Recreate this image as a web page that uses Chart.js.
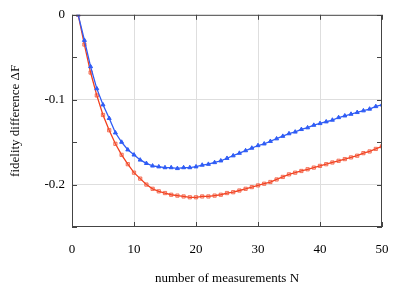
<!DOCTYPE html>
<html>
<head>
<meta charset="utf-8">
<script src="https://cdn.jsdelivr.net/npm/chart.js@4/dist/chart.umd.min.js"></script>
<style>
  html, body { margin: 0; padding: 0; background: #fff; }
  #wrap { width: 415px; height: 292px; }
</style>
</head>
<body>
<div id="wrap"><canvas id="fidelity" width="415" height="292"></canvas></div>
<script>
// number of measurements N
const measurements = Array.from({ length: 50 }, (_, i) => i + 1);

const blueValues = [
  0, -0.030, -0.061, -0.087, -0.106, -0.122, -0.139, -0.150, -0.159, -0.165,
  -0.171, -0.175, -0.178, -0.179, -0.180, -0.180, -0.181, -0.180, -0.180, -0.179,
  -0.177, -0.176, -0.174, -0.172, -0.169, -0.166, -0.163, -0.160, -0.157, -0.154,
  -0.152, -0.149, -0.146, -0.143, -0.140, -0.138, -0.135, -0.133, -0.130, -0.128,
  -0.126, -0.124, -0.121, -0.119, -0.117, -0.115, -0.113, -0.111, -0.108, -0.106
];

const redValues = [
  0, -0.035, -0.068, -0.095, -0.118, -0.136, -0.152, -0.165, -0.176, -0.186,
  -0.193, -0.200, -0.205, -0.208, -0.210, -0.212, -0.213, -0.214, -0.215, -0.215,
  -0.214, -0.214, -0.213, -0.212, -0.210, -0.209, -0.207, -0.205, -0.203, -0.201,
  -0.199, -0.197, -0.194, -0.191, -0.188, -0.186, -0.184, -0.182, -0.180, -0.178,
  -0.176, -0.174, -0.172, -0.170, -0.168, -0.166, -0.163, -0.161, -0.158, -0.155
];

const xTicks = [0, 10, 20, 30, 40, 50];
const yLabelled = [0, -0.1, -0.2];

const serif = '"Liberation Serif", "DejaVu Serif", serif';
const gridColor = '#dedede';

const toPoints = vals => measurements.map((n, i) => ({ x: n, y: vals[i] }));
const near = (a, b) => Math.abs(a - b) < 1e-6;

// frame + inward tick marks, like the gnuplot look
const frame = {
  id: 'frame',
  afterDraw(chart) {
    const { ctx, chartArea: a, scales: { x, y } } = chart;
    ctx.save();
    ctx.strokeStyle = '#444';
    ctx.lineWidth = 1;
    ctx.strokeRect(a.left + 0.5, a.top + 0.5, a.right - a.left - 1, a.bottom - a.top - 1);
    const len = 5;
    ctx.beginPath();
    x.ticks.forEach(t => {
      const px = Math.round(x.getPixelForValue(t.value)) + 0.5;
      ctx.moveTo(px, a.bottom); ctx.lineTo(px, a.bottom - len);
      ctx.moveTo(px, a.top); ctx.lineTo(px, a.top + len);
    });
    y.ticks.forEach(t => {
      const py = Math.round(y.getPixelForValue(t.value)) + 0.5;
      ctx.moveTo(a.left, py); ctx.lineTo(a.left + len, py);
      ctx.moveTo(a.right, py); ctx.lineTo(a.right - len, py);
    });
    ctx.stroke();
    ctx.restore();
  }
};

new Chart(document.getElementById('fidelity'), {
  type: 'line',
  data: {
    datasets: [
      {
        label: 'blue',
        data: toPoints(blueValues),
        borderColor: '#2f5cf5',
        backgroundColor: '#2f5cf5',
        borderWidth: 1.3,
        pointStyle: 'triangle',
        pointRadius: 2.3,
        pointBorderWidth: 1,
        tension: 0
      },
      {
        label: 'red',
        data: toPoints(redValues),
        borderColor: '#f2401f',
        backgroundColor: 'rgba(242,64,31,0.25)',
        pointBorderColor: 'rgba(242,80,50,0.75)',
        borderWidth: 1.3,
        pointStyle: 'rect',
        pointRadius: 2.3,
        pointBorderWidth: 1,
        tension: 0
      }
    ]
  },
  options: {
    responsive: false,
    animation: false,
    layout: { padding: { left: 0, right: 33, top: 14, bottom: 0 } },
    plugins: { legend: { display: false }, tooltip: { enabled: false } },
    scales: {
      x: {
        type: 'linear',
        min: 0,
        max: 50,
        afterBuildTicks: s => { s.ticks = xTicks.map(v => ({ value: v })); },
        afterFit: s => { s.height = 65; },
        border: { display: false },
        grid: {
          drawTicks: false,
          color: c => (c.tick && c.tick.value > 0 && c.tick.value < 50) ? gridColor : 'transparent'
        },
        ticks: { color: '#000', padding: 15, font: { family: serif, size: 13 } },
        title: {
          display: true,
          text: 'number of measurements N',
          color: '#000',
          font: { family: serif, size: 13 },
          padding: { top: 0, bottom: 6 }
        }
      },
      y: {
        min: -0.25,
        max: 0,
        afterBuildTicks: s => {
          const t = [];
          for (let v = 0; v >= -0.25 - 1e-9; v -= 0.05) t.push({ value: Math.round(v * 100) / 100 });
          s.ticks = t;
        },
        afterFit: s => { s.width = 72; },
        border: { display: false },
        grid: {
          drawTicks: false,
          color: c => (c.tick && yLabelled.some(v => near(v, c.tick.value)) && !near(c.tick.value, 0)) ? gridColor : 'transparent'
        },
        ticks: {
          color: '#000',
          padding: 7,
          font: { family: serif, size: 13 },
          callback: v => yLabelled.some(l => near(l, v)) ? (near(v, 0) ? '0' : String(Math.round(v * 10) / 10)) : ''
        },
        title: {
          display: true,
          text: 'fidelity difference ΔF',
          color: '#000',
          font: { family: serif, size: 13 },
          padding: { top: 8, bottom: 0 }
        }
      }
    }
  },
  plugins: [frame]
});
</script>
</body>
</html>
